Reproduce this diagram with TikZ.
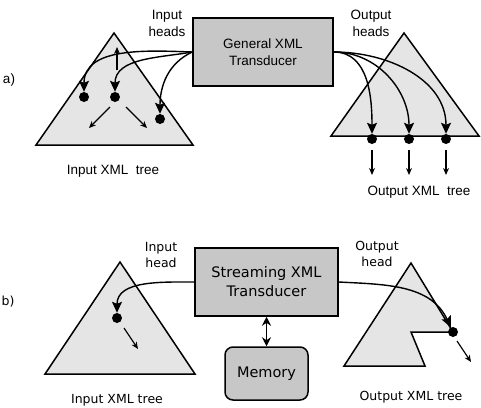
\documentclass[tikz,border=0pt]{standalone}
\usepackage{fontspec}
\setmainfont{Liberation Sans}
\newfontfamily\widesans{DejaVu Sans}
\usetikzlibrary{calc,arrows.meta}

\definecolor{treegray}{gray}{0.9}
\definecolor{boxgray}{gray}{0.78}

\tikzset{
  tree/.style = {draw, line width=1.5pt, fill=treegray},
  transducer/.style = {draw, line width=1.5pt, fill=boxgray, minimum width=140pt, minimum height=68pt, align=center},
  headdot/.style = {circle, fill=black, inner sep=0pt, minimum size=10pt},
  move/.style = {line width=1.2pt, -{Stealth[length=7pt,width=6pt]}},
  headarrow/.style = {line width=1.4pt, -{Stealth[length=11pt,width=10pt,inset=2pt]}},
  note/.style = {align=center, inner sep=0pt},
}

\begin{document}
\begin{tikzpicture}[x=1pt, y=1pt]
    \useasboundingbox (0,0) rectangle (481,-407);
    % ---------- a) ----------
    \begin{scope}[font=\fontsize{13.5}{17}\selectfont]
    \node[note] (a) at (9,-80) {a)};
    % trees
    \path[tree] (114,-33) -- (193,-145) -- (36,-145) -- cycle;
    \path[tree] (404,-33) -- (479,-136) -- (331,-136) -- cycle;
    % transducer
    \node[transducer, minimum width=140pt] (gxt) at (263,-52) {General XML\\Transducer};
    % labels
    \node[note] (inh) at (167,-23) {Input\\heads};
    \node[note] (outh) at (371,-23) {Output\\heads};
    \node[note] (int) at (113,-171) {Input XML\ \ tree};
    \node[note] (outt) at (419,-192) {Output XML\ \ tree};
    % input heads
    \node[headdot] (i1) at (84,-97) {};
    \node[headdot] (i2) at (115,-97) {};
    \node[headdot] (i3) at (160,-119) {};
    \path[draw, headarrow] (gxt.west) to[out=178, in=90] (i1);
    \path[draw, headarrow] (gxt.west) to[out=190, in=90] (i2);
    \path[draw, headarrow] (gxt.west) to[out=205, in=90] (i3);
    % moves in the input tree
    \coordinate (up0) at (117,-70);
    \coordinate (up1) at (117,-47);
    \coordinate (dl0) at (110,-107);
    \coordinate (dl1) at (89,-128);
    \coordinate (dr0) at (126,-107);
    \coordinate (dr1) at (147,-128);
    \path[draw, move] (up0) to (up1);
    \path[draw, move] (dl0) to (dl1);
    \path[draw, move] (dr0) to (dr1);
    % output heads
    \foreach \n/\x in {1/372, 2/409, 3/446}{
      \node[headdot] (o\n) at (\x,-139) {};
      \path[draw, headarrow] (gxt.east) to[out=0, in=90] (o\n);
      \coordinate (od\n) at (\x,-150);
      \coordinate (oe\n) at (\x,-175);
      \path[draw, move] (od\n) to (oe\n);
    }
    \end{scope}
    % ---------- b) ----------
    \begin{scope}[font=\widesans\fontsize{12.5}{16}\selectfont]
    \node[note] (b) at (8,-302) {b)};
    % trees
    \path[tree] (120,-262) -- (195,-374) -- (45,-374) -- cycle;
    \path[tree] (411,-263) -- (453,-332) -- (411,-332) -- (425,-366) -- (344,-366) -- cycle;
    % transducer and memory
    \node[transducer, minimum width=143pt, font=\widesans\fontsize{14.5}{19}\selectfont] (sxt) at (266.5,-282) {Streaming XML\\Transducer};
    \node[transducer, minimum width=83pt, minimum height=53pt, rounded corners=8pt, font=\widesans\fontsize{14.5}{19}\selectfont] (mem) at (266.5,-373.5) {Memory};
    \path[draw, line width=1.4pt, {Stealth[length=9pt,width=9pt]}-{Stealth[length=9pt,width=9pt]}] (sxt.south) to (mem.north);
    % labels
    \node[note] (inh1) at (161,-255) {Input\\head};
    \node[note] (outh1) at (377,-254) {Output\\head};
    \node[note] (int1) at (117,-400) {Input XML tree};
    \node[note] (outt1) at (411,-397) {Output XML tree};
    % heads
    \node[headdot] (j1) at (117,-318) {};
    \node[headdot] (k1) at (453,-332) {};
    \path[draw, headarrow] (sxt.west) to[out=180, in=90] (j1);
    \path[draw, headarrow] (sxt.east) to[out=-3, in=115] (k1);
    % moves
    \coordinate (jm0) at (124,-328);
    \coordinate (jm1) at (138,-349);
    \coordinate (km0) at (457,-341);
    \coordinate (km1) at (471,-362);
    \path[draw, move] (jm0) to (jm1);
    \path[draw, move] (km0) to (km1);
    \end{scope}
\end{tikzpicture}
\end{document}
